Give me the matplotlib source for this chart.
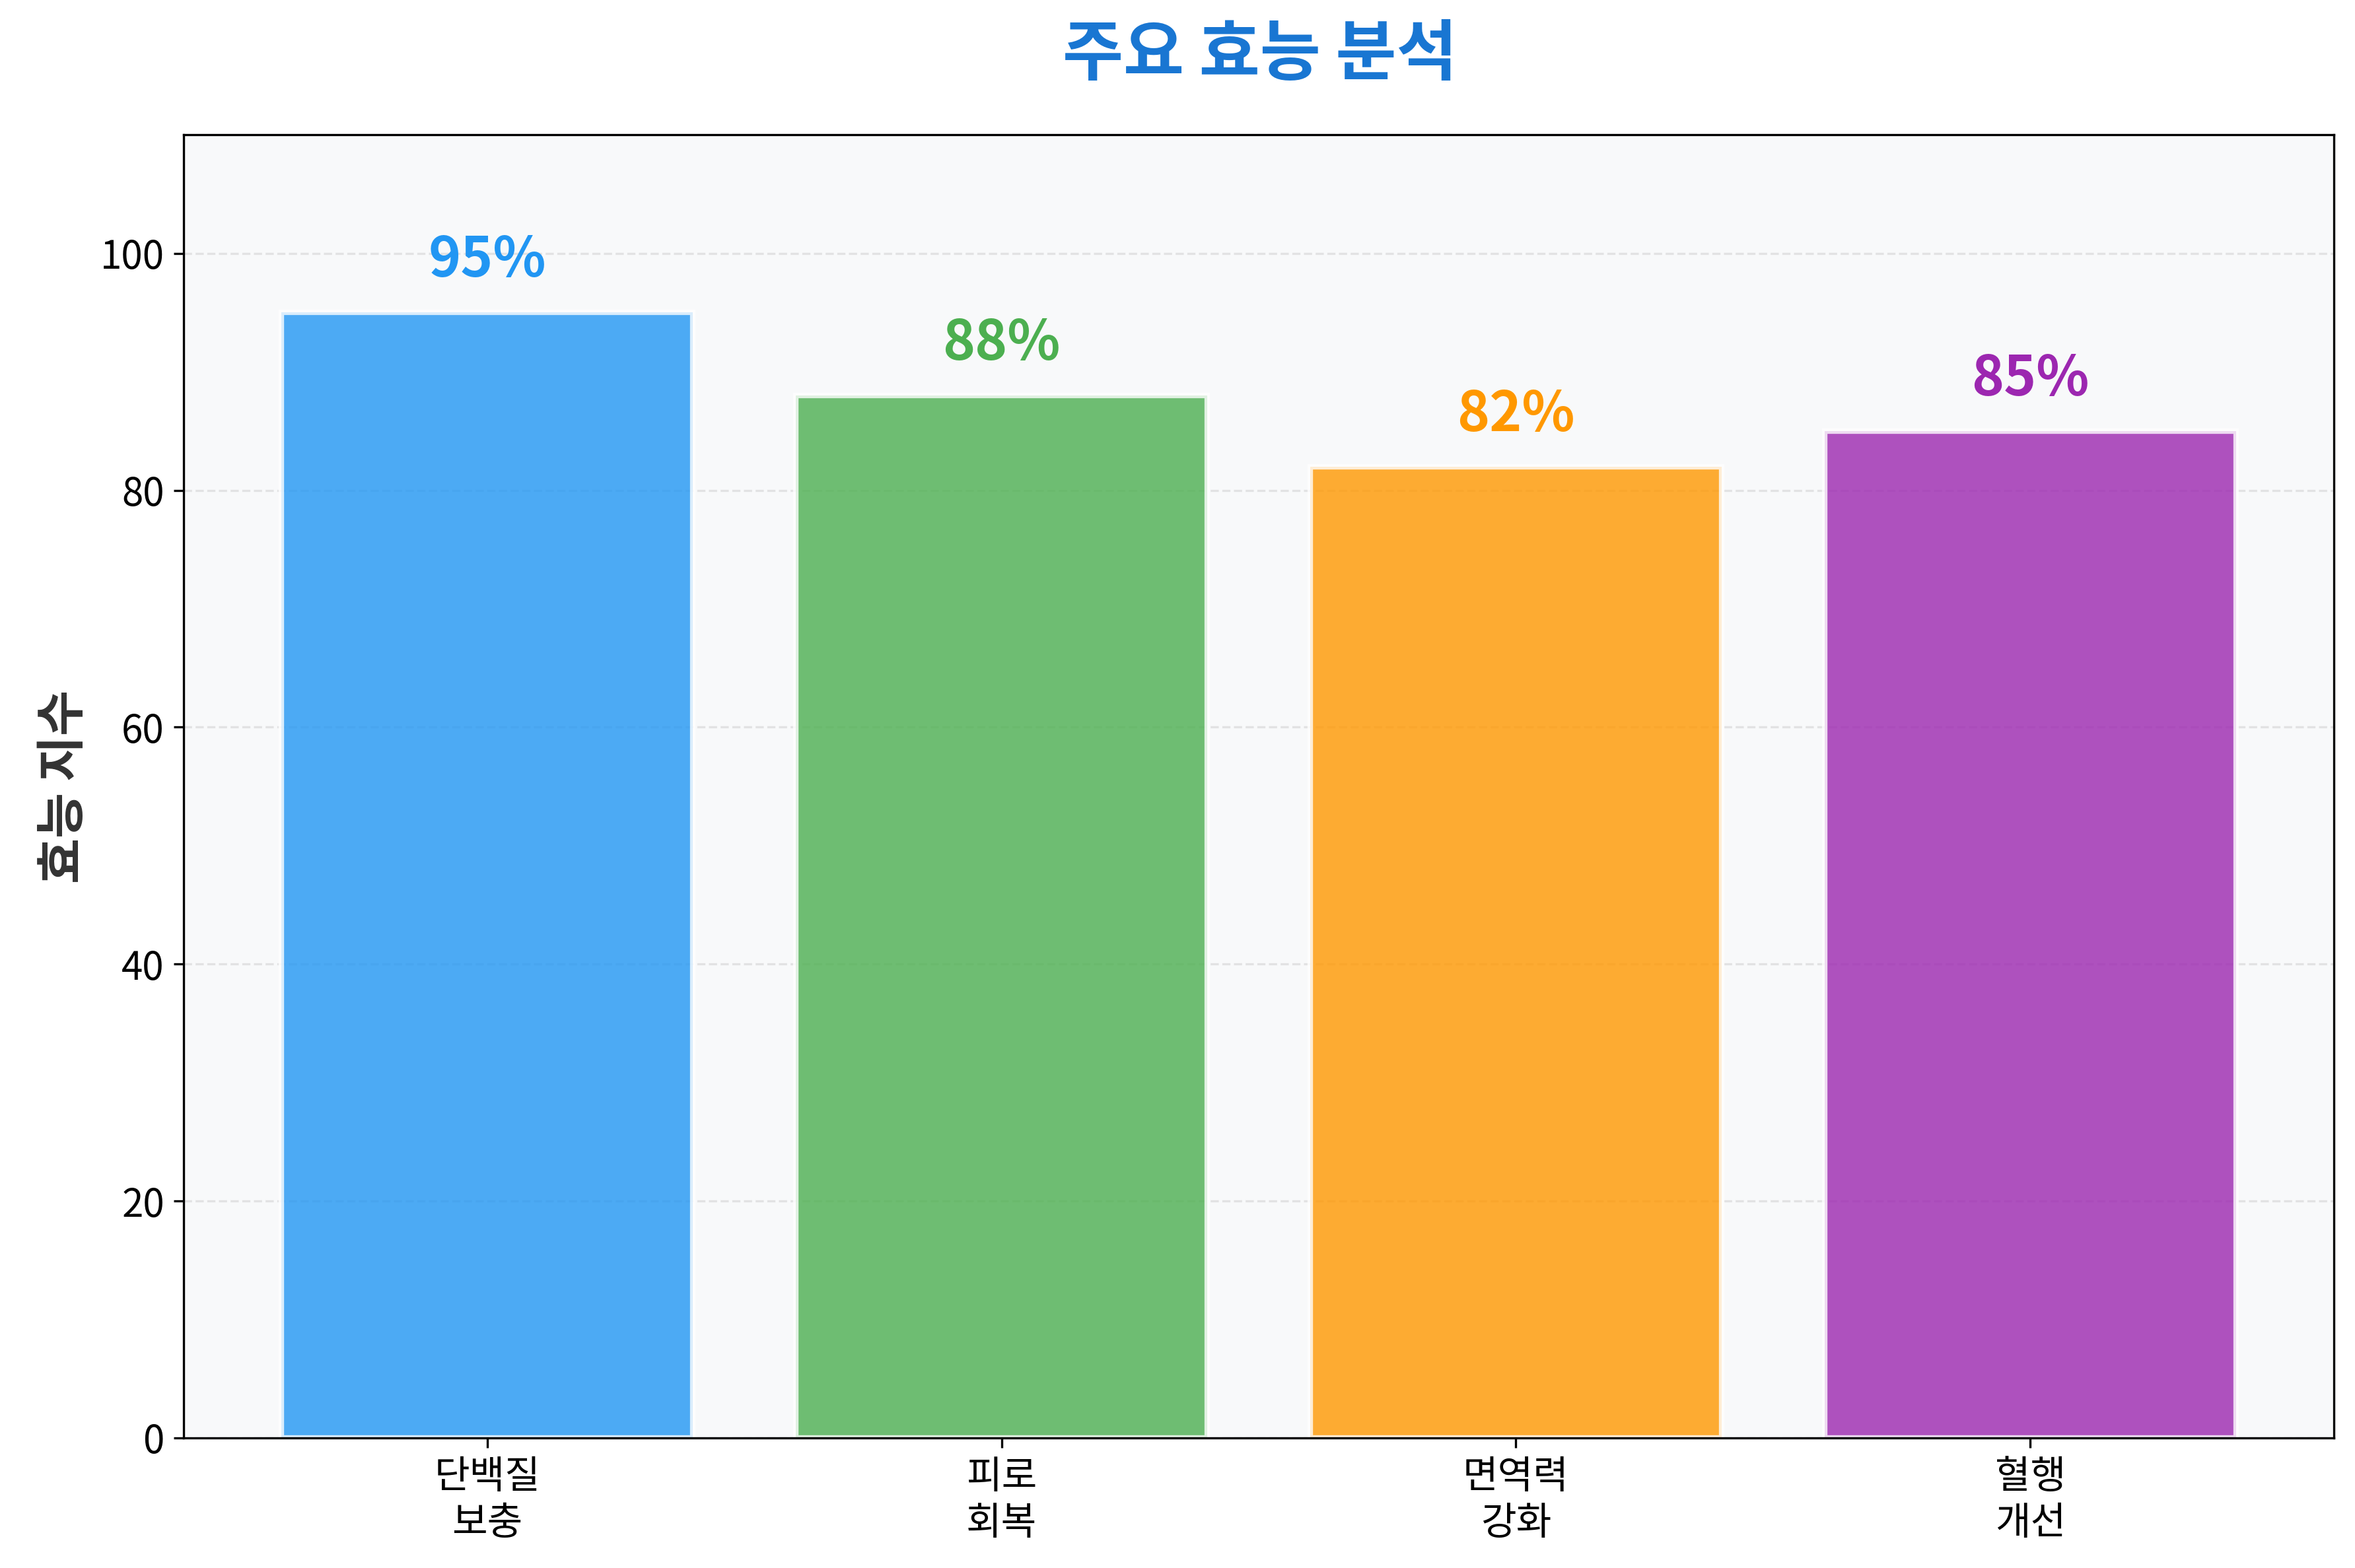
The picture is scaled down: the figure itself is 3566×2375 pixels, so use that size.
import matplotlib
matplotlib.use("Agg")
import matplotlib.pyplot as plt

plt.rcParams['font.family'] = ['Noto Sans CJK KR', 'DejaVu Sans']

categories = ["단백질\n보충", "피로\n회복", "면역력\n강화", "혈행\n개선"]
values = [95, 88, 82, 85]
colors = ["#2196F3", "#4CAF50", "#FF9800", "#9C27B0"]

fig = plt.figure(figsize=(3566/300, 2375/300), dpi=300)
ax = fig.add_axes([0.078, 0.083, 0.913, 0.831])
ax.set_facecolor("#F8F9FA")
bars = ax.bar(categories, values, color=colors, alpha=0.8, edgecolor="white", linewidth=2, width=0.8)
for b, v, c in zip(bars, values, colors):
    ax.text(b.get_x() + b.get_width()/2, v + 2, f"{v}%", ha="center", va="bottom",
            fontsize=20, fontweight="bold", color=c)
ax.set_ylim(0, 110)
ax.set_yticks([0, 20, 40, 60, 80, 100])
ax.grid(axis="y", linestyle="--", alpha=0.3)
ax.set_axisbelow(True)
ax.tick_params(labelsize=14)
ax.set_ylabel("효능 지수", fontsize=18, fontweight="bold", color="#333333")
fig.text(0.535, 0.965, "주요 효능 분석", ha="center", va="center", fontsize=24,
         fontweight="bold", color="#1976D2")
fig.savefig("out.png", dpi=300)
